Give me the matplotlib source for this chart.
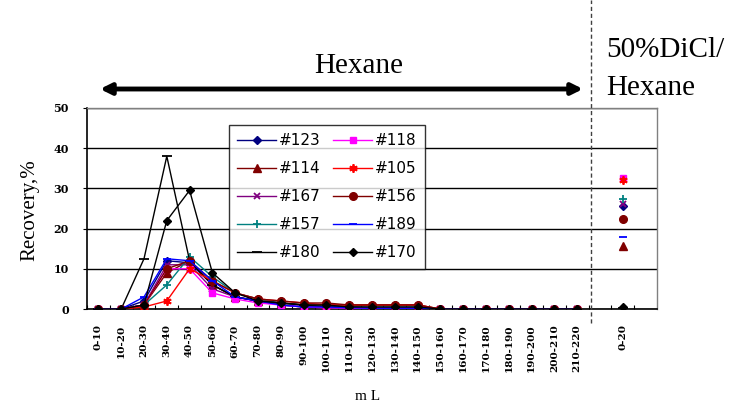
import numpy as np
import matplotlib
matplotlib.use("Agg")
import matplotlib.pyplot as plt
from matplotlib.lines import Line2D

hexane_cats = ["0-10", "10-20", "20-30", "30-40", "40-50", "50-60", "60-70", "70-80",
               "80-90", "90-100", "100-110", "110-120", "120-130", "130-140", "140-150",
               "150-160", "160-170", "170-180", "180-190", "190-200", "200-210", "210-220"]
dicl_cats = ["0-20"]

s123 = [0, 0, 2, 12, 11.5, 6, 3, 2, 1, 0.5, 0.5, 0.3, 0.2, 0.2, 0.2, 0, 0, 0, 0, 0, 0, 0]
s118 = [0, 0, 1, 10, 10, 4, 2.5, 1.5, 1, 0.5, 0.3, 0.2, 0.2, 0.2, 0.2, 0, 0, 0, 0, 0, 0, 0]
s114 = [0, 0, 1, 9, 12, 6, 3, 2, 1.5, 1, 1, 1, 1, 1, 1, 0, 0, 0, 0, 0, 0, 0]
s105 = [0, 0, 0.5, 2, 10, 7, 4, 2.5, 2, 1.5, 1, 1, 1, 1, 1, 0, 0, 0, 0, 0, 0, 0]
s167 = [0, 0, 1, 11, 11, 5, 3, 2, 1, 0.5, 0.5, 0.3, 0.2, 0.2, 0.2, 0, 0, 0, 0, 0, 0, 0]
s156 = [0, 0, 1, 10, 12, 7, 4, 2.5, 2, 1.5, 1.5, 1, 1, 1, 1, 0, 0, 0, 0, 0, 0, 0]
s157 = [0, 0, 1, 6, 13, 8, 4, 2.5, 1.5, 1, 1, 0.5, 0.5, 0.5, 0.5, 0, 0, 0, 0, 0, 0, 0]
s189 = [0, 0, 3, 12.5, 12, 7, 3, 2, 1, 0.5, 0.5, 0.3, 0.2, 0.2, 0.2, 0, 0, 0, 0, 0, 0, 0]
s180 = [0, 0, 12.5, 38, 12, 6, 3, 2, 1.5, 1, 0.5, 0.5, 0.3, 0.3, 0.2, 0, 0, 0, 0, 0, 0, 0]
s170 = [0, 0, 1, 22, 29.5, 9, 4, 2, 1.5, 1, 1, 0.5, 0.5, 0.5, 0.5, 0, 0, 0, 0, 0, 0, 0]

d123, d118, d114, d105, d167 = 25.6, 32.6, 15.7, 32.2, 26.0
d156, d157, d189, d180, d170 = 22.4, 27.4, 17.9, 0.3, 0.5

series = [
    ("#123", s123, d123, "#000080", "D", 4.5),
    ("#114", s114, d114, "#800000", "^", 6),
    ("#167", s167, d167, "#800080", "x", 5),
    ("#157", s157, d157, "#008080", "+", 6),
    ("#180", s180, d180, "#000000", "_", 7),
    ("#118", s118, d118, "#FF00FF", "s", 5),
    ("#105", s105, d105, "#FF0000", (6, 2, 0), 6),
    ("#156", s156, d156, "#800000", "o", 5.5),
    ("#189", s189, d189, "#0000FF", "_", 6),
    ("#170", s170, d170, "#000000", "D", 4.5),
]

fig = plt.figure(figsize=(7.41, 4.05), dpi=100)
ax = fig.add_axes([87/741, 1-309/405, 570/741, 201/405])

xh = np.arange(len(hexane_cats))
xd = len(hexane_cats) + 1
handles = []
for name, vals, dv, col, mk, ms in series:
    mew = 1.3 if (mk in ("x", "+", "_") or isinstance(mk, tuple)) else 1.0
    ln, = ax.plot(xh, vals, color=col, marker=mk, markersize=ms, lw=1.0,
                  markeredgewidth=mew, label=name, zorder=3)
    ax.plot([xd], [dv], color=col, marker=mk, markersize=ms, lw=0,
            markeredgewidth=mew, zorder=3)
    handles.append(ln)

ax.set_xlim(-0.5, len(hexane_cats) + 2.5)
ax.set_ylim(0, 50)
ticks = list(xh) + [xd]
ax.set_xticks(ticks)
ax.set_xticklabels(hexane_cats + dicl_cats, rotation=90, family="DejaVu Serif",
                   fontsize=7.5, fontweight="bold", va="top", ha="center")
ax.tick_params(axis="x", which="major", length=0, pad=11)
ax.set_xticks(np.arange(-0.5, len(hexane_cats) + 2.5, 1.0), minor=True)
ax.tick_params(axis="x", which="minor", direction="in", length=3, width=0.8)
ax.set_yticks([0, 10, 20, 30, 40, 50])
ax.set_yticklabels(["0", "10", "20", "30", "40", "50"], family="DejaVu Serif",
                   fontsize=8, fontweight="bold")
ax.tick_params(axis="y", length=3, width=0.8, pad=10)
ax.grid(axis="y", color="black", lw=1.0)
ax.set_axisbelow(True)
for s in ["left", "bottom"]:
    ax.spines[s].set_color("black")
    ax.spines[s].set_linewidth(1.2)
for s in ["top", "right"]:
    ax.spines[s].set_color("#808080")
    ax.spines[s].set_linewidth(1.0)

fig.text(30/741, 1-210/405, "Recovery,%", family="Liberation Serif", fontsize=15,
         rotation=90, ha="center", va="center")
fig.text(368/741, 1-397/405, "m L", family="Liberation Serif", fontsize=11,
         ha="center", va="center")

leg = ax.legend(handles=handles, ncol=2, loc="upper left",
                bbox_to_anchor=(0.249, 0.915), borderaxespad=0, frameon=True,
                fancybox=False, edgecolor="black",
                prop={"family": "DejaVu Sans", "size": 11},
                handlelength=2.55, columnspacing=0.8, labelspacing=0.85,
                handletextpad=0.2, borderpad=0.55)
leg.get_frame().set_linewidth(1.0)
leg.set_zorder(5)

# Annotations
fig.add_artist(Line2D([591/741, 591/741], [1-323/405, 1.0], transform=fig.transFigure,
                      color="#404040", lw=1.0, ls=(0, (3, 2))))
ax.annotate("", xy=(583/741, 1-89/405), xytext=(100/741, 1-89/405),
            xycoords="figure fraction", textcoords="figure fraction",
            arrowprops=dict(arrowstyle="<|-|>", color="black", lw=3.5,
                            mutation_scale=16, shrinkA=0, shrinkB=0))
fig.text(359/741, 1-66/405, "Hexane", family="Liberation Serif", fontsize=21,
         ha="center", va="center")
fig.text(606/741, 1-50/405, "50%DiCl/", family="Liberation Serif", fontsize=21,
         ha="left", va="center")
fig.text(606/741, 1-88/405, "Hexane", family="Liberation Serif", fontsize=21,
         ha="left", va="center")

fig.savefig("out.png", dpi=100)
